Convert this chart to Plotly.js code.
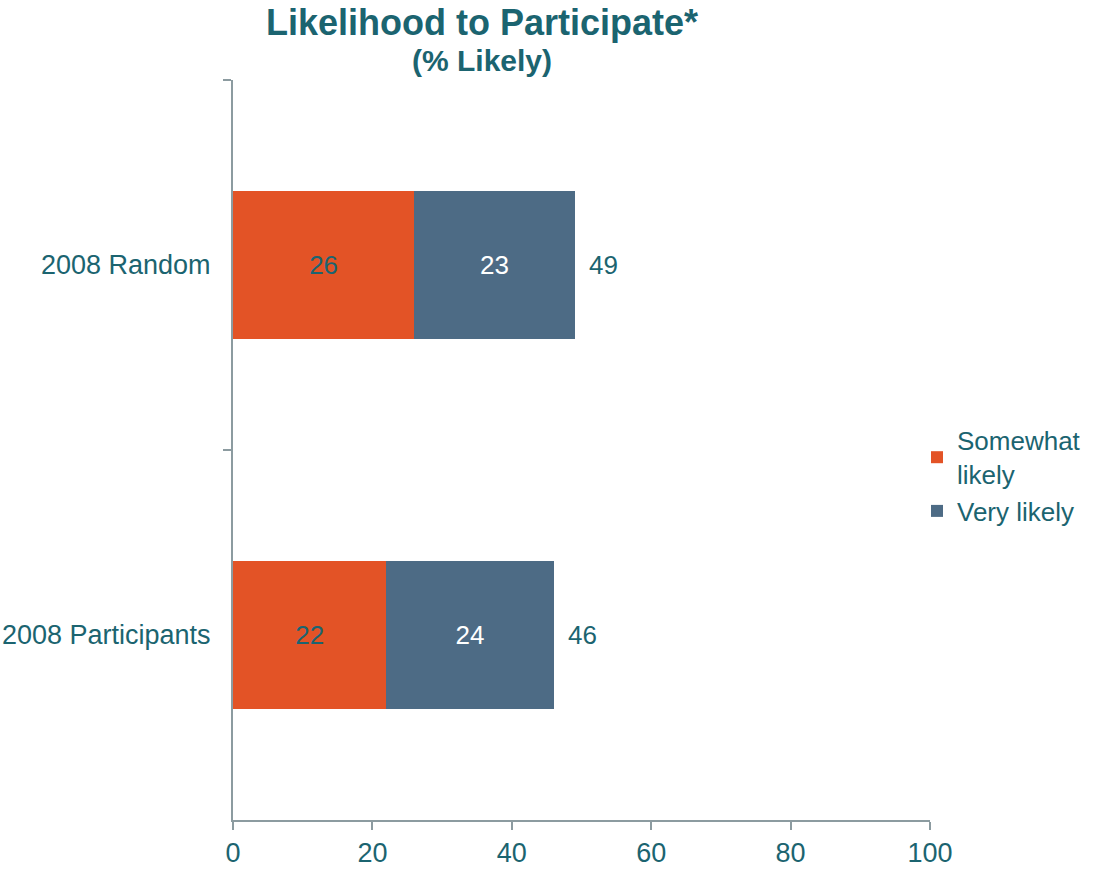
<!DOCTYPE html>
<html>
<head>
<meta charset="utf-8">
<script src="https://cdn.plot.ly/plotly-3.0.1.min.js"></script>
<style>html,body{margin:0;padding:0;background:#fff;}#chart{width:1095px;height:876px;}</style>
</head>
<body>
<div id="chart"></div>
<script>
const categories = ["2008 Random", "2008 Participants"];
const somewhatLikely = [26, 22];
const veryLikely = [23, 24];
const totals = [49, 46];
const seriesNames = ["Somewhat<br>likely", "Very likely"];
const xTicks = [0, 20, 40, 60, 80, 100];
const titleLines = ["Likelihood to Participate*", "(% Likely)"];

const teal = "#1b6470";
const axisGray = "#8c9ba0";
const FONT = "Liberation Sans, Arial, sans-serif";

const traces = [
  {
    type: "bar", orientation: "h", name: seriesNames[0],
    y: categories, x: somewhatLikely,
    marker: {color: "#e35326"},
    text: somewhatLikely.map(String), textposition: "inside", insidetextanchor: "middle",
    textfont: {color: teal, size: 26, family: FONT},
    hoverinfo: "x+name"
  },
  {
    type: "bar", orientation: "h", name: seriesNames[1],
    y: categories, x: veryLikely,
    marker: {color: "#4d6b85"},
    text: veryLikely.map(String), textposition: "inside", insidetextanchor: "middle",
    textfont: {color: "#ffffff", size: 26, family: FONT},
    hoverinfo: "x+name"
  }
];

const annotations = categories.map((c, i) => ({
  x: totals[i], y: c, xref: "x", yref: "y",
  text: String(totals[i]), showarrow: false,
  xanchor: "left", xshift: 12,
  font: {color: teal, size: 26, family: FONT}
}));

annotations.push({
  xref: "paper", yref: "paper", x: (482 - 233) / 697, y: 1.078,
  xanchor: "center", yanchor: "middle", showarrow: false,
  text: "<b>" + titleLines[0] + "</b>",
  font: {size: 36, color: teal, family: FONT}
});
annotations.push({
  xref: "paper", yref: "paper", x: (482 - 233) / 697, y: 1.027,
  xanchor: "center", yanchor: "middle", showarrow: false,
  text: "<b>" + titleLines[1] + "</b>",
  font: {size: 30, color: teal, family: FONT}
});

const layout = {
  width: 1095, height: 876,
  paper_bgcolor: "#ffffff", plot_bgcolor: "#ffffff",
  margin: {l: 233, r: 165, t: 80, b: 56, autoexpand: false},
  font: {family: FONT, color: teal},
  barmode: "stack",
  bargap: 0.6,
  showlegend: true,
  legend: {
    x: (917 - 233) / 697, xanchor: "left", y: 0.465, yanchor: "middle",
    font: {size: 26, color: teal, family: FONT},
    traceorder: "normal", itemwidth: 30, tracegroupgap: 0
  },
  xaxis: {
    range: [0, 100], tickvals: xTicks, ticktext: xTicks.map(String),
    ticks: "outside", ticklen: 8, tickcolor: axisGray, tickwidth: 2,
    showline: true, linecolor: axisGray, linewidth: 2,
    showgrid: false, zeroline: false,
    tickfont: {size: 27, color: teal, family: FONT}
  },
  yaxis: {
    type: "category", range: [1.5, -0.5],
    tickson: "boundaries", ticks: "outside", ticklen: 8, tickcolor: axisGray, tickwidth: 2,
    showline: true, linecolor: axisGray, linewidth: 2,
    showgrid: false, zeroline: false,
    ticklabelstandoff: 15,
    tickfont: {size: 27, color: teal, family: FONT}
  },
  annotations: annotations
};

Plotly.newPlot("chart", traces, layout, {displayModeBar: false, staticPlot: true});
</script>
</body>
</html>
